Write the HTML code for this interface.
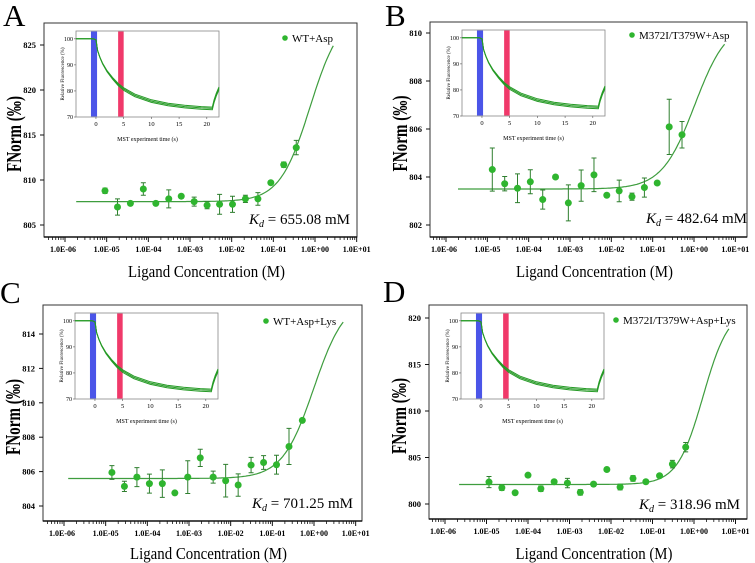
<!DOCTYPE html>
<html><head><meta charset="utf-8"><style>
body{margin:0;background:#fff}
svg{display:block;font-family:"Liberation Serif",serif}
</style></head><body>
<svg id="fig" width="755" height="563" viewBox="0 0 755 563" xmlns="http://www.w3.org/2000/svg"></svg>
<script>
// ---- data ----
const xTickLabels = ["1.0E-06","1.0E-05","1.0E-04","1.0E-03","1.0E-02","1.0E-01","1.0E+00","1.0E+01"];
const xTickLogs = [-6,-5,-4,-3,-2,-1,0,1];

const aLogConc = [-5.04,-4.74,-4.43,-4.12,-3.82,-3.51,-3.21,-2.90,-2.59,-2.29,-1.98,-1.67,-1.37,-1.06,-0.75,-0.45];
const aFnorm = [808.8,807.0,807.4,809.0,807.4,807.9,808.2,807.6,807.2,807.3,807.3,807.9,807.9,809.7,811.7,813.6];
const aErr = [0.3,0.9,0.1,0.7,0.1,1.0,0.2,0.5,0.4,1.1,0.9,0.4,0.7,0.1,0.3,0.8];
const aFit = [807.6,21,0.76,1.2]; // base, amplitude, K, hill
const aYTicks = [805,810,815,820,825];

const bLogConc = [-4.88,-4.58,-4.27,-3.96,-3.66,-3.35,-3.04,-2.73,-2.42,-2.11,-1.81,-1.50,-1.20,-0.89,-0.60,-0.29];
const bFnorm = [804.31,803.72,803.53,803.8,803.06,804.0,802.92,803.64,804.09,803.24,803.42,803.18,803.56,803.75,806.09,805.76];
const bErr = [0.9,0.3,0.6,0.5,0.4,0.05,0.75,0.65,0.7,0.05,0.45,0.15,0.4,0.05,1.15,0.55];
const bFit = [803.5,7,1.04,1.1];
const bYTicks = [802,804,806,808,810];

const cLogConc = [-4.85,-4.55,-4.25,-3.95,-3.64,-3.34,-3.03,-2.73,-2.42,-2.12,-1.82,-1.51,-1.21,-0.90,-0.60,-0.28];
const cFnorm = [805.95,805.14,805.68,805.3,805.3,804.76,805.68,806.8,805.68,805.47,805.22,806.38,806.53,806.4,807.46,808.98];
const cErr = [0.4,0.3,0.55,0.55,0.8,0.05,0.95,0.5,0.35,0.95,0.65,0.45,0.4,0.55,1.05,0.05];
const cFit = [805.6,10.5,0.99,1.15];
const cYTicks = [804,806,808,810,812,814];

const dLogConc = [-4.94,-4.63,-4.31,-4.0,-3.69,-3.37,-3.05,-2.74,-2.42,-2.10,-1.78,-1.47,-1.16,-0.83,-0.52,-0.20];
const dFnorm = [802.36,801.75,801.21,803.1,801.64,802.39,802.25,801.25,802.14,803.71,801.82,802.75,802.39,803.04,804.29,806.11];
const dErr = [0.6,0.3,0.1,0.1,0.3,0.1,0.5,0.3,0.1,0.1,0.3,0.3,0.1,0.1,0.4,0.5];
const dFit = [802.1,19,1.66,1.4];
const dYTicks = [800,805,810,815,820];

const insetTime = [-3.6,-0.5,0,0.3,0.7,1.2,2,3,4,5,7,10,13,16,19,21,21.3,21.7,22.2];
const insetValue = [100,100,99.6,95.5,93,90.5,87.6,84.8,82.5,80.7,78.3,76.1,74.8,74.0,73.5,73.3,76,78.5,81];
const insetOffsets = [-0.5,0,0.5];
const insetYTicks = [70,80,90,100];
const insetXTicks = [0,5,10,15,20];

// ---- geometry ----
const NS = "http://www.w3.org/2000/svg";
const svg = document.getElementById("fig");
function el(tag, attrs, parent, text){
  const e = document.createElementNS(NS, tag);
  for (const k in attrs) e.setAttribute(k, attrs[k]);
  if (text !== undefined) e.textContent = text;
  (parent||svg).appendChild(e);
  return e;
}
const GREEN = "#2fb52f", LINE = "#3e9d3e", BAR = "#2f7f2f";

const panels = [
  {id:"a", letter:"A", lx:3, ly:26, box:[44,23,357,237], x0:65, x1:315, yv:[805,825], yp:[225,45], logC:aLogConc, val:aFnorm, err:aErr, fit:aFit, yTicks:aYTicks, fitRange:[-5.73,0.44], legend:"WT+Asp", legX:285, legY:38, kd:"655.08", kdX:249, kdY:224, titleY:277},
  {id:"b", letter:"B", lx:385, ly:26, box:[430,22,747,237], x0:446, x1:694, yv:[802,810], yp:[225,33], logC:bLogConc, val:bFnorm, err:bErr, fit:bFit, yTicks:bYTicks, fitRange:[-5.71,0.74], legend:"M372I/T379W+Asp", legX:632, legY:35, kd:"482.64", kdX:646, kdY:223, titleY:277},
  {id:"c", letter:"C", lx:0, ly:303, box:[43,305,362,521], x0:64, x1:314, yv:[804,814], yp:[506,334], logC:cLogConc, val:cFnorm, err:cErr, fit:cFit, yTicks:cYTicks, fitRange:[-5.9,0.7], legend:"WT+Asp+Lys", legX:266, legY:321, kd:"701.25", kdX:252, kdY:508, titleY:559},
  {id:"d", letter:"D", lx:383, ly:302, box:[429,305,747,519], x0:445, x1:694, yv:[800,820], yp:[504,318], logC:dLogConc, val:dFnorm, err:dErr, fit:dFit, yTicks:dYTicks, fitRange:[-5.66,0.84], legend:"M372I/T379W+Asp+Lys", legX:616, legY:320, kd:"318.96", kdX:639, kdY:509, titleY:559}
];

panels.forEach(p => {
  const g = el("g", {});
  
  
  const [L,T,R,B] = p.box;
  const xs = lg => p.x0 + (lg + 6) * (p.x1 - p.x0) / 6;
  const ys = v => p.yp[0] + (v - p.yv[0]) * (p.yp[1] - p.yp[0]) / (p.yv[1] - p.yv[0]);

  const letter = el("text", {x:p.lx, y:p.ly, "font-size":31}, g, p.letter);
  
  

  const frame = el("rect", {x:L, y:T, width:R-L, height:B-T, fill:"none", stroke:"#333", "stroke-width":1}, g);
  
  
  const xAxis = el("line", {x1:L, y1:B, x2:R, y2:B, stroke:"#111", "stroke-width":1.6}, g);
  
  

  for (let lg = -7; lg <= 1; lg++) {
    for (let m = 2; m <= 9; m++) {
      const xm = xs(lg + Math.log10(m));
      if (xm >= L && xm <= R) el("line", {x1:xm, y1:B, x2:xm, y2:B+3, stroke:"#111", "stroke-width":0.8}, g);
    }
  }
  xTickLogs.forEach((lg, i) => {
    const x = xs(lg);
    if (x <= R + 1) el("line", {x1:x, y1:B, x2:x, y2:B+5, stroke:"#111", "stroke-width":1}, g);
    const t = el("text", {x:x - (i === 0 ? 2 : 0), y:B+15, "font-size":8, "font-weight":"bold", "text-anchor":"middle"}, g, xTickLabels[i]);
    
    
  });
  const xt = el("text", {x:(L+R)/2 + 6, y:p.titleY, "font-size":17, "text-anchor":"middle", textLength:157, lengthAdjust:"spacingAndGlyphs"}, g, "Ligand Concentration (M)");
  
  

  p.yTicks.forEach(v => {
    const y = ys(v);
    el("line", {x1:L-4, y1:y, x2:L, y2:y, stroke:"#111", "stroke-width":1}, g);
    const t = el("text", {x:L-8, y:y+3, "font-size":8.5, "font-weight":"bold", "text-anchor":"end"}, g, String(v));
    
    
  });
  const ycx = L - 23, ycy = (T + B) / 2 + 4;
  const yt = el("text", {x:ycx, y:ycy, "font-size":21, "font-weight":"bold", "text-anchor":"middle", transform:`rotate(-90 ${ycx} ${ycy})`, textLength:76, lengthAdjust:"spacingAndGlyphs"}, g, "FNorm (‰)");
  
  

  const [base, amp, K, n] = p.fit;
  let d = "";
  for (let i = 0; i <= 200; i++) {
    const lg = p.fitRange[0] + (p.fitRange[1] - p.fitRange[0]) * i / 200;
    const c = Math.pow(10, lg);
    const r = Math.pow(c / K, n);
    const v = base + amp * r / (1 + r);
    d += (i ? "L" : "M") + xs(lg).toFixed(1) + "," + ys(v).toFixed(1);
  }
  const fc = el("path", {d:d, fill:"none", stroke:LINE, "stroke-width":1.2}, g);
  
  

  p.logC.forEach((lg, i) => {
    const x = xs(lg), y = ys(p.val[i]);
    const e1 = ys(p.val[i] + p.err[i]), e2 = ys(p.val[i] - p.err[i]);
    const eb = el("path", {d:`M${x},${e1}V${e2}M${x-2.5},${e1}H${x+2.5}M${x-2.5},${e2}H${x+2.5}`, stroke:BAR, "stroke-width":1, fill:"none"}, g);
    
    
    const pt = el("circle", {cx:x, cy:y, r:3.5, fill:GREEN}, g);
    
    
  });

  const lgd = el("g", {}, g);
  
  
  el("circle", {cx:p.legX, cy:p.legY, r:2.8, fill:GREEN}, lgd);
  el("text", {x:p.legX + 7, y:p.legY + 4, "font-size":11}, lgd, p.legend);

  const kd = el("text", {x:p.kdX, y:p.kdY, "font-size":15}, g);
  
  
  el("tspan", {"font-style":"italic"}, kd, "K");
  el("tspan", {"font-style":"italic", "font-size":10, dy:3}, kd, "d");
  el("tspan", {dy:-3}, kd, " = " + p.kd + " mM");

  const ig = el("g", {}, g);
  
  
  const IL = L + 32, IT = T + 8, IW = 143, IH = 86;
  const tx = t => IL + (t + 3.6) * IW / 25.8;
  const ty = v => IT + IH - (v - 70) * IH / 33;
  el("rect", {x:IL, y:IT, width:IW, height:IH, fill:"#fff", stroke:"#888", "stroke-width":0.8}, ig);
  const blue = el("rect", {x:tx(-0.9), y:IT+0.5, width:tx(0.2)-tx(-0.9), height:IH-1, fill:"#4b55e8"}, ig);
  
  
  const red = el("rect", {x:tx(4), y:IT+0.5, width:tx(5)-tx(4), height:IH-1, fill:"#f0396a"}, ig);
  
  
  insetOffsets.forEach(off => {
    let dd = "";
    insetTime.forEach((t, i) => {
      const v = insetValue[i] + (t > 0 ? off * Math.min(1, t / 5) : 0);
      dd += (i ? "L" : "M") + tx(t).toFixed(1) + "," + ty(v).toFixed(1);
    });
    const tr = el("path", {d:dd, fill:"none", stroke:"#259a25", "stroke-width":1}, ig);
    
    
  });
  insetYTicks.forEach(v => {
    el("line", {x1:IL-2, y1:ty(v), x2:IL, y2:ty(v), stroke:"#555", "stroke-width":0.6}, ig);
    el("text", {x:IL-3, y:ty(v)+2, "font-size":6, "text-anchor":"end"}, ig, String(v));
  });
  insetXTicks.forEach(t => {
    el("line", {x1:tx(t), y1:IT+IH, x2:tx(t), y2:IT+IH+2, stroke:"#555", "stroke-width":0.6}, ig);
    el("text", {x:tx(t), y:IT+IH+9, "font-size":6.5, "text-anchor":"middle"}, ig, String(t));
  });
  el("text", {x:IL+IW/2, y:IT+IH+24, "font-size":6, "text-anchor":"middle"}, ig, "MST experiment time (s)");
  const rx = IL - 12, ry = IT + IH/2;
  el("text", {x:rx, y:ry, "font-size":5, "text-anchor":"middle", transform:`rotate(-90 ${rx} ${ry})`}, ig, "Relative Fluorescence (%)");
});
</script>
</body></html>
